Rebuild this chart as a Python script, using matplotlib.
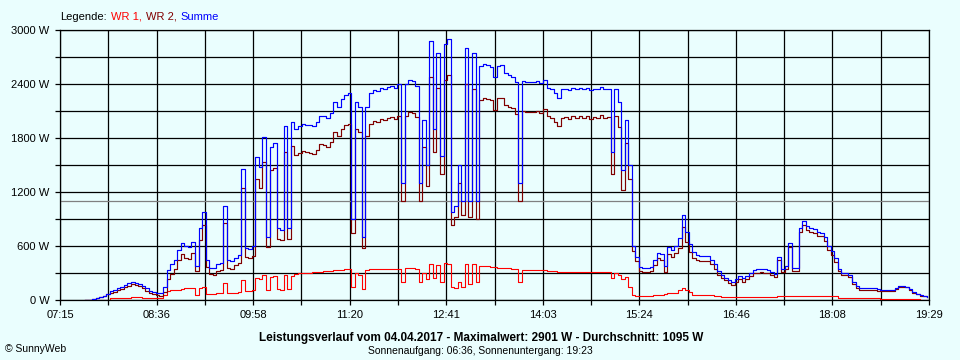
import numpy as np
import matplotlib
matplotlib.use("Agg")
import matplotlib.pyplot as plt
from matplotlib.offsetbox import TextArea, HPacker, AnchoredOffsetbox

# ---------------- data ----------------
sample_start_min = 7 * 60 + 36   # first sample 07:36
sample_step_min = 3              # one reading every 3 minutes

summe = [
    0, 5, 15, 22, 35, 50, 70, 100, 115, 135,
    150, 165, 185, 205, 190, 180, 155, 130, 105, 85,
    75, 75, 150, 330, 400, 450, 560, 630, 600, 590,
    650, 380, 800, 980, 440, 360, 355, 400, 410, 1050,
    440, 430, 470, 500, 1460, 580, 570, 600, 1590, 1480,
    1810, 700, 1700, 1740, 800, 780, 1930, 800, 1980, 1900,
    1930, 1960, 1950, 1940, 1930, 1980, 2050, 2040, 2020, 2080,
    2200, 2150, 2230, 2280, 2300, 900, 2200, 2150, 700, 2150,
    2300, 2330, 2320, 2360, 2340, 2370, 2380, 2360, 2400, 1300,
    2400, 2440, 2430, 2380, 1300, 2000, 1500, 2880, 1900, 2750,
    1600, 2850, 2900, 980, 1050, 1500, 1100, 2800, 1100, 2750,
    1100, 2600, 2620, 2610, 2590, 2480, 2600, 2610, 2520, 2500,
    2480, 2420, 1300, 2430, 2420, 2420, 2420, 2430, 2410, 2450,
    2360, 2340, 2300, 2250, 2340, 2350, 2330, 2360, 2340, 2360,
    2340, 2360, 2330, 2350, 2340, 2370, 2340, 2350, 1650, 2350,
    2200, 1450, 2000, 1500, 600, 480, 370, 360, 360, 370,
    440, 520, 510, 380, 590, 560, 600, 690, 940, 760,
    620, 530, 500, 490, 490, 490, 450, 400, 320, 280,
    250, 220, 205, 230, 270, 240, 270, 300, 330, 340,
    345, 340, 330, 310, 290, 480, 350, 380, 630, 360,
    360, 800, 880, 820, 800, 790, 760, 750, 700, 600,
    540, 470, 340, 300, 300, 280, 200, 160, 135, 130,
    130, 135, 130, 120, 112, 110, 110, 110, 130, 160,
    160, 150, 120, 90, 70, 55, 45, 33,
]

wr1 = [
    0, 0, 0, 0, 0, 0, 0, 20, 22, 22,
    25, 25, 25, 28, 28, 28, 25, 25, 22, 22,
    22, 25, 60, 100, 110, 110, 115, 120, 130, 130,
    130, 60, 135, 150, 70, 70, 72, 74, 75, 190,
    80, 80, 82, 85, 220, 100, 100, 110, 250, 230,
    280, 110, 260, 270, 120, 115, 280, 120, 270, 290,
    300, 300, 305, 305, 310, 315, 315, 320, 320, 325,
    330, 330, 335, 340, 344, 150, 300, 280, 120, 330,
    344, 345, 345, 345, 345, 348, 348, 350, 350, 200,
    355, 355, 355, 350, 200, 300, 230, 400, 250, 390,
    200, 410, 400, 150, 130, 200, 150, 400, 180, 400,
    200, 380, 375, 375, 370, 370, 360, 360, 355, 355,
    350, 350, 200, 335, 335, 333, 333, 333, 330, 330,
    320, 318, 318, 315, 315, 315, 315, 315, 315, 315,
    315, 315, 315, 313, 313, 313, 313, 313, 250, 300,
    280, 230, 260, 150, 55, 50, 50, 48, 48, 50,
    52, 55, 60, 65, 75, 78, 80, 110, 130, 110,
    90, 60, 55, 55, 55, 55, 55, 50, 40, 35,
    33, 33, 33, 35, 35, 35, 35, 35, 35, 35,
    35, 35, 35, 35, 35, 40, 40, 40, 40, 40,
    40, 40, 44, 44, 44, 44, 44, 44, 44, 44,
    44, 44, 22, 22, 22, 22, 22, 22, 22, 22,
    22, 22, 22, 22, 11, 11, 11, 11, 11, 11,
    11, 11, 11, 8, 8, 5, 5, 5,
]

wr2 = [
    0, 5, 15, 22, 35, 50, 70, 80, 93, 113,
    125, 140, 160, 177, 162, 152, 130, 105, 83, 63,
    53, 50, 90, 230, 290, 340, 445, 510, 470, 460,
    520, 320, 665, 830, 370, 290, 283, 326, 335, 860,
    360, 350, 388, 415, 1240, 480, 470, 490, 1340, 1250,
    1530, 590, 1440, 1470, 680, 665, 1650, 680, 1710, 1610,
    1630, 1660, 1645, 1635, 1620, 1665, 1735, 1720, 1700, 1755,
    1870, 1820, 1895, 1940, 1956, 750, 1900, 1870, 580, 1820,
    1956, 1985, 1975, 2015, 1995, 2022, 2032, 2010, 2050, 1100,
    2045, 2085, 2075, 2030, 1100, 1700, 1270, 2480, 1650, 2360,
    1400, 2440, 2500, 830, 920, 1300, 950, 2400, 920, 2350,
    900, 2220, 2245, 2235, 2220, 2110, 2240, 2250, 2165, 2145,
    2130, 2070, 1100, 2095, 2085, 2087, 2087, 2097, 2080, 2120,
    2040, 2022, 1982, 1935, 2025, 2035, 2015, 2045, 2025, 2045,
    2025, 2045, 2015, 2037, 2027, 2057, 2027, 2037, 1400, 2050,
    1920, 1220, 1740, 1350, 545, 430, 320, 312, 312, 320,
    388, 465, 450, 315, 515, 482, 520, 580, 810, 650,
    530, 470, 445, 435, 435, 435, 395, 350, 280, 245,
    217, 187, 172, 195, 235, 205, 235, 265, 295, 305,
    310, 305, 295, 275, 255, 440, 310, 340, 590, 320,
    320, 760, 836, 776, 756, 746, 716, 706, 656, 556,
    496, 426, 318, 278, 278, 258, 178, 138, 113, 108,
    108, 113, 108, 98, 101, 99, 99, 99, 119, 149,
    149, 139, 109, 82, 62, 50, 40, 28,
]

average_w = 1095
x_tick_labels = ["07:15", "08:36", "09:58", "11:20", "12:41",
                 "14:03", "15:24", "16:46", "18:08", "19:29"]
y_tick_labels = ["0 W", "600 W", "1200 W", "1800 W", "2400 W", "3000 W"]
legend_parts = [("Legende:", "#000000"), ("WR 1,", "#FF0000"),
                ("WR 2,", "#800000"), ("Summe", "#0000FF")]
title = "Leistungsverlauf vom 04.04.2017 - Maximalwert: 2901 W - Durchschnitt: 1095 W"
subtitle = "Sonnenaufgang: 06:36, Sonnenuntergang: 19:23"
credit = "\u00a9 SunnyWeb"

# ---------------- drawing ----------------
BG = "#EAFEFE"
plt.rcParams["font.family"] = ["Liberation Sans", "DejaVu Sans"]

W, H = 960, 360
fig = plt.figure(figsize=(W / 100, H / 100), dpi=100, facecolor=BG)
ax = fig.add_axes([60 / W, 60 / H, 869 / W, 270 / H])
ax.set_facecolor(BG)

t = sample_start_min + sample_step_min * np.arange(len(summe))
x_start, x_end = 7 * 60 + 15, 19 * 60 + 29

ax.axhline(average_w, color="#808080", lw=0.9, zorder=1.5)
ax.plot(t, wr1, color="#FF0000", lw=0.8, drawstyle="steps-post", zorder=3)
ax.plot(t, wr2, color="#800000", lw=0.85, drawstyle="steps-post", zorder=3)
ax.plot(t, summe, color="#0000FF", lw=0.85, drawstyle="steps-post", zorder=4)

ax.set_xlim(x_start, x_end)
ax.set_ylim(0, 3000)

xt = np.linspace(x_start, x_end, 19)
ax.set_xticks(xt)
xl = []
for k in range(19):
    xl.append(x_tick_labels[k // 2] if k % 2 == 0 else "")
ax.set_xticklabels(xl)

yt = np.arange(0, 3001, 300)
ax.set_yticks(yt)
yl = []
for k in range(len(yt)):
    yl.append(y_tick_labels[k // 2] if k % 2 == 0 else "")
ax.set_yticklabels(yl)

ax.set_axisbelow(True)
ax.grid(True, color="black", lw=0.9)
ax.tick_params(axis="both", direction="out", length=3.6, width=0.9,
               color="black", labelsize=8, labelcolor="black")
ax.tick_params(axis="x", pad=3.5)
ax.tick_params(axis="y", pad=4)
for s in ax.spines.values():
    s.set_color("black")
    s.set_linewidth(0.9)

# legend line at the top
children = [TextArea(txt, textprops=dict(color=c, size=8)) for txt, c in legend_parts]
box = HPacker(children=children, align="baseline", pad=0, sep=3)
anch = AnchoredOffsetbox(loc="center left", child=box, pad=0, frameon=False,
                         bbox_to_anchor=(60 / W, 1 - 16.5 / H),
                         bbox_transform=fig.transFigure, borderpad=0)
fig.add_artist(anch)

fig.text(481 / W, 1 - 338 / H, title, ha="center", va="center",
         fontsize=8.5, fontweight="bold", color="black")
fig.text(480 / W, 1 - 351 / H, subtitle, ha="center", va="center",
         fontsize=7.5, color="black")
fig.text(5 / W, 1 - 349 / H, credit, ha="left", va="center",
         fontsize=7.5, color="black")

fig.savefig("out.png", dpi=100, facecolor=BG)
